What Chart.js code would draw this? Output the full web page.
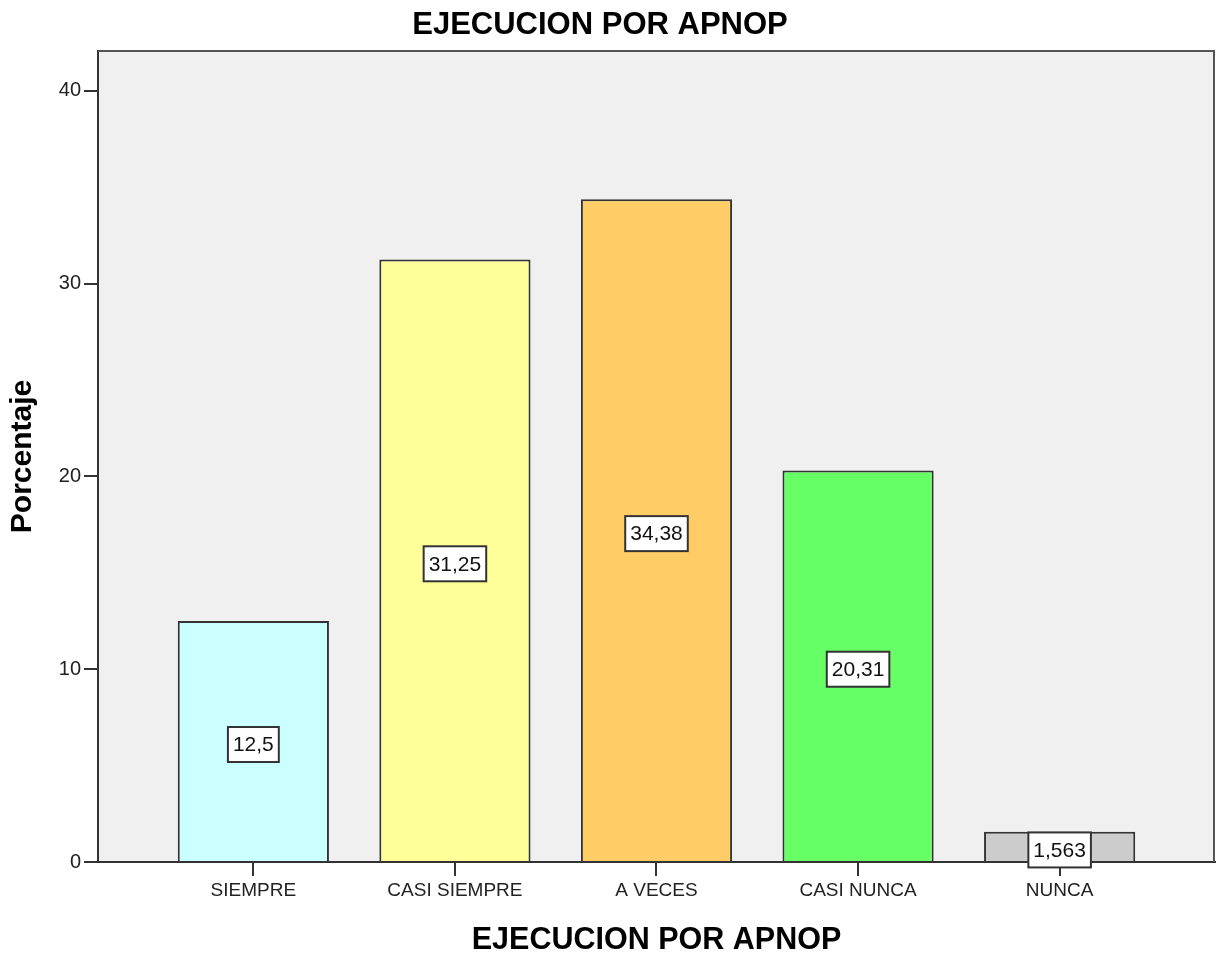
<!DOCTYPE html>
<html>
<head>
<meta charset="utf-8">
<title>EJECUCION POR APNOP</title>
<script src="https://cdn.jsdelivr.net/npm/chart.js@4/dist/chart.umd.min.js"></script>
<style>
  html, body { margin: 0; padding: 0; background: #ffffff; }
  #wrap { width: 1216px; height: 954px; }
</style>
</head>
<body>
<div id="wrap"><canvas id="chart" width="1216" height="954"></canvas></div>
<script>
// Response categories and their percentages
const categories = ['SIEMPRE', 'CASI SIEMPRE', 'A VECES', 'CASI NUNCA', 'NUNCA'];
const percentages = [12.5, 31.25, 34.38, 20.31, 1.563];
const barColors = ['#CCFFFF', '#FFFF99', '#FFCC66', '#66FF66', '#CCCCCC'];
const yTickValues = [0, 10, 20, 30, 40];
const chartTitle = 'EJECUCION POR APNOP';
const xAxisTitle = 'EJECUCION POR APNOP';
const yAxisTitle = 'Porcentaje';

const FONT = "'Liberation Sans', Arial, Helvetica, sans-serif";
const INK = '#333333';

// Grey plot background plus the top/right frame lines
const plotFrame = {
  id: 'plotFrame',
  beforeDatasetsDraw(chart) {
    const { ctx, chartArea: a } = chart;
    ctx.save();
    ctx.fillStyle = '#F0F0F0';
    ctx.fillRect(a.left + 1, a.top, a.right - a.left - 1, a.bottom - a.top - 1);
    ctx.strokeStyle = '#555555';
    ctx.lineWidth = 2;
    ctx.beginPath();
    ctx.moveTo(a.left, a.top);
    ctx.lineTo(a.right - 1, a.top);
    ctx.lineTo(a.right - 1, a.bottom);
    ctx.stroke();
    ctx.restore();
  }
};

// Chart heading
const heading = {
  id: 'heading',
  afterDraw(chart) {
    const { ctx } = chart;
    ctx.save();
    ctx.font = `bold 31px ${FONT}`;
    ctx.fillStyle = '#000000';
    ctx.textAlign = 'center';
    ctx.textBaseline = 'middle';
    ctx.fillText(chartTitle, 600, 25);
    ctx.restore();
  }
};

// Boxed value labels in the middle of each bar
const valueBoxes = {
  id: 'valueBoxes',
  afterDatasetsDraw(chart) {
    const { ctx } = chart;
    const meta = chart.getDatasetMeta(0);
    ctx.save();
    ctx.font = `21px ${FONT}`;
    ctx.textAlign = 'center';
    ctx.textBaseline = 'middle';
    meta.data.forEach((bar, i) => {
      const text = String(percentages[i]).replace('.', ',');
      const w = ctx.measureText(text).width + 10;
      const h = 35;
      const cx = bar.x;
      const cy = (bar.y + bar.base) / 2 + 3.5;
      ctx.fillStyle = '#ffffff';
      ctx.fillRect(cx - w / 2, cy - h / 2, w, h);
      ctx.strokeStyle = INK;
      ctx.lineWidth = 2;
      ctx.strokeRect(cx - w / 2, cy - h / 2, w, h);
      ctx.fillStyle = '#111111';
      ctx.fillText(text, cx, cy + 1);
    });
    ctx.restore();
  }
};

new Chart(document.getElementById('chart'), {
  type: 'bar',
  data: {
    datasets: [{
      data: categories.map((c, i) => ({ x: i, y: percentages[i] })),
      backgroundColor: barColors,
      borderColor: INK,
      borderWidth: 2,
      borderSkipped: 'start',
      barPercentage: 0.75,
      categoryPercentage: 1.0
    }]
  },
  options: {
    responsive: false,
    animation: false,
    devicePixelRatio: 1,
    layout: { padding: { top: 51, right: 1, bottom: 0, left: 0 } },
    plugins: {
      legend: { display: false },
      tooltip: { enabled: false },
      title: { display: false }
    },
    scales: {
      x: {
        type: 'linear',
        offset: false,
        min: -0.7708,
        max: 4.7708,
        afterBuildTicks: s => { s.ticks = categories.map((c, i) => ({ value: i })); },
        afterFit: s => { s.height = 92; },
        ticks: {
          callback: v => categories[v],
          font: { family: FONT, size: 19 },
          color: '#222222',
          padding: 3,
          maxRotation: 0,
          autoSkip: false
        },
        grid: { offset: false, drawOnChartArea: false, drawTicks: true, tickLength: 14, color: INK, lineWidth: 2 },
        border: { display: true, color: INK, width: 2 },
        title: {
          display: true,
          text: xAxisTitle,
          color: '#000000',
          font: { family: FONT, size: 30.5, weight: 'bold', lineHeight: 0.8 },
          padding: { top: 0, bottom: 1 }
        }
      },
      y: {
        min: 0,
        max: 42.07,
        afterBuildTicks: s => { s.ticks = yTickValues.map(v => ({ value: v })); },
        afterFit: s => { s.width = 98; },
        ticks: {
          font: { family: FONT, size: 20 },
          color: '#222222',
          padding: 3
        },
        grid: { drawOnChartArea: false, drawTicks: true, tickLength: 14, color: INK, lineWidth: 2 },
        border: { display: true, color: INK, width: 2 },
        title: {
          display: true,
          text: yAxisTitle,
          color: '#000000',
          font: { family: FONT, size: 30, weight: 'bold' },
          padding: { top: 5, bottom: 0 }
        }
      }
    }
  },
  plugins: [plotFrame, valueBoxes, heading]
});
</script>
</body>
</html>
